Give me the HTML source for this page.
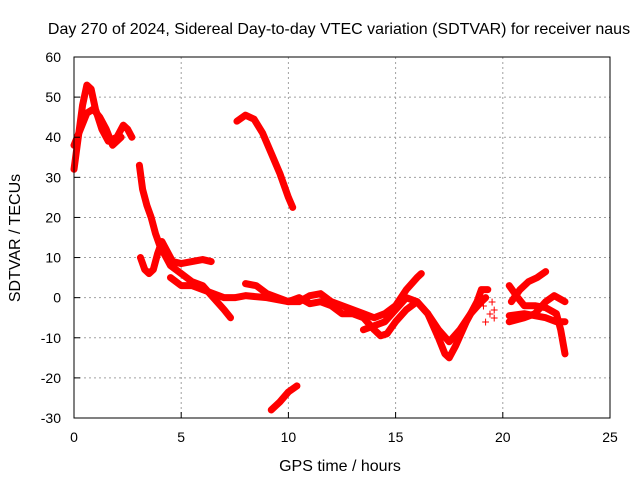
<!DOCTYPE html>
<html><head><meta charset="utf-8"><style>
body{margin:0;background:#fff}
text{font-family:"Liberation Sans",sans-serif;font-size:14px;fill:#000}
.big{font-size:16px}
</style></head><body>
<svg id="chart" width="640" height="480" viewBox="0 0 640 480">
<text class="big" x="339" y="34" text-anchor="middle">Day 270 of 2024, Sidereal Day-to-day VTEC variation (SDTVAR) for receiver naus</text>
<text class="big" x="340" y="471" text-anchor="middle">GPS time / hours</text>
<text class="big" transform="translate(20,238) rotate(-90)" text-anchor="middle">SDTVAR / TECUs</text>
<g id="grid"></g><g id="marks"></g><g id="axes"></g>
</svg>
<script>
const xTicks=[0,5,10,15,20,25];
const yTicks=[-30,-20,-10,0,10,20,30,40,50,60];
const seriesA=[[0,32],[0.2,40],[0.4,48],[0.6,53],[0.8,52],[1.0,47],[1.3,42],[1.6,39],[2.0,40],[2.3,43],[2.5,42],[2.7,40]];
const seriesB=[[0,38],[0.3,42],[0.6,46],[0.9,47],[1.2,45],[1.5,42],[1.8,38],[2.2,40]];
const seriesC=[[3.05,33],[3.2,27],[3.4,23],[3.6,20],[3.8,16],[4.0,13],[4.2,11],[4.5,8],[5.0,6],[5.5,4],[6.0,3],[6.5,0],[7.0,-3],[7.3,-5]];
const seriesD=[[3.1,10],[3.3,7],[3.5,6],[3.7,7],[3.9,11],[4.1,14],[4.3,12],[4.6,9],[5.0,8.5],[5.5,9],[6.0,9.5],[6.4,9]];
const seriesE=[[4.5,5],[5,3],[5.5,3],[6.0,2],[6.5,1],[7.0,0],[7.5,0],[8,0.5],[9,0],[10,-1],[10.5,-1],[11,0.5],[11.5,1],[12,-1],[13,-3],[13.5,-4],[14,-5],[14.5,-4],[15,-2],[15.5,2],[16,5],[16.2,6]];
const seriesF=[[8,3.5],[8.5,3],[9,1],[9.5,0],[10,-1],[10.5,0],[11,-1.5],[11.5,-1],[12,-2],[12.5,-4],[13,-4],[13.5,-5],[14,-8],[14.3,-9.5],[14.6,-9],[15,-6],[15.5,-3],[16,-1],[16.5,-4],[17,-10],[17.3,-14],[17.5,-15],[17.8,-12],[18.3,-6],[18.8,-1],[19,2],[19.3,2]];
const seriesG=[[13.5,-8],[14,-7],[14.5,-6],[15,-3],[15.5,0],[16,-1],[16.5,-4],[17,-8],[17.5,-11],[18,-8],[18.5,-4],[19,-1],[19.2,0]];
const seriesH=[[7.6,44],[8.0,45.5],[8.4,44.5],[8.8,41],[9.2,36],[9.6,31],[10.0,25],[10.2,22.5]];
const seriesI=[[9.2,-28],[9.6,-26],[10.0,-23.5],[10.4,-22]];
const seriesJ=[[20.3,3],[20.7,0],[21,-2],[21.5,-2],[22,-2.5],[22.5,-4],[22.7,-8],[22.9,-14]];
const seriesK=[[20.4,-1],[20.8,2],[21.2,4],[21.6,5],[22,6.5]];
const seriesL=[[20.3,-6],[21,-5],[21.5,-4],[22,-1],[22.4,0.5],[22.9,-1]];
const seriesM=[[20.3,-4.5],[21,-4],[21.5,-4.5],[22,-5],[22.5,-6],[22.9,-6]];
const scatter=[[19.5,-1],[19.6,-3],[19.6,-5],[19.4,-4],[19.2,-6],[19.1,-2]];
const NS="http://www.w3.org/2000/svg";
const X0=74,X1=610,Y0=418,Y1=57;
const sx=v=>X0+(v-0)/(25-0)*(X1-X0);
const sy=v=>Y0-(v+30)/(90)*(Y0-Y1);
function mk(t,a,p){const e=document.createElementNS(NS,t);for(const k in a)e.setAttribute(k,a[k]);p.appendChild(e);return e;}
const grid=document.getElementById('grid'),axes=document.getElementById('axes'),marks=document.getElementById('marks');
xTicks.forEach(t=>{
 if(t>0&&t<25){const g=mk('line',{x1:sx(t),x2:sx(t),y1:Y1,y2:Y0,stroke:'#a0a0a0','stroke-dasharray':'2,3'},grid);
 
 }
 const tk=mk('line',{x1:sx(t),x2:sx(t),y1:Y0,y2:Y0-6,stroke:'#000'},axes);
 
 
 const tl=mk('text',{x:sx(t),y:Y0+24,'text-anchor':'middle'},axes);tl.textContent=t;
 
 
});
yTicks.forEach(t=>{
 if(t>-30&&t<60){const g=mk('line',{x1:X0,x2:X1,y1:sy(t),y2:sy(t),stroke:'#a0a0a0','stroke-dasharray':'2,3'},grid);
 
 }
 const tk=mk('line',{x1:X0,x2:X0+6,y1:sy(t),y2:sy(t),stroke:'#000'},axes);
 
 
 const tl=mk('text',{x:X0-13,y:sy(t)+5,'text-anchor':'end'},axes);tl.textContent=t;
 
 
});
const fr=mk('rect',{x:X0,y:Y1,width:X1-X0,height:Y0-Y1,fill:'none',stroke:'#000'},axes);


[seriesA,seriesB,seriesC,seriesD,seriesE,seriesF,seriesG,seriesH,seriesI,seriesJ,seriesK,seriesL,seriesM].forEach((s,i)=>{
 const p=mk('polyline',{points:s.map(d=>sx(d[0])+','+sy(d[1])).join(' '),fill:'none',stroke:'#ff0000','stroke-width':7,'stroke-linejoin':'round','stroke-linecap':'round'},marks);
 
 
});
scatter.forEach(d=>{
 const t=mk('text',{x:sx(d[0]),y:sy(d[1])+5,'text-anchor':'middle',style:'fill:#ff0000;font-size:14px'},marks);t.textContent='+';
 
 
});
</script>
</body></html>
